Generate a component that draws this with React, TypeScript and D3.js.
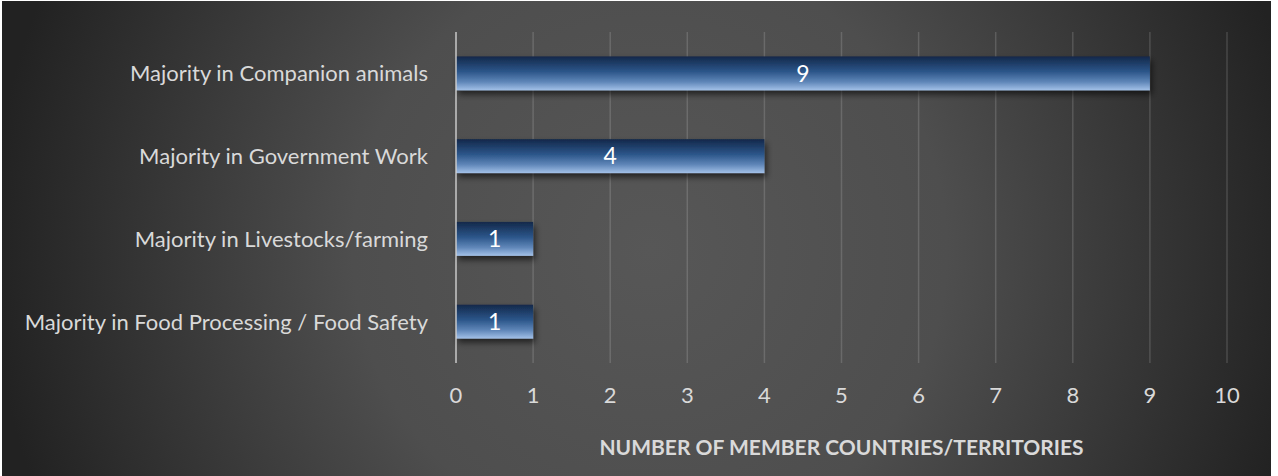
import React from "react";
import * as d3 from "d3";

const categories = [
  "Majority in Companion animals",
  "Majority in Government Work",
  "Majority in Livestocks/farming",
  "Majority in Food Processing / Food Safety",
];
const values = [9, 4, 1, 1];
const xTicks = [0, 1, 2, 3, 4, 5, 6, 7, 8, 9, 10];
const axisTitle = "NUMBER OF MEMBER COUNTRIES/TERRITORIES";

const W = 1278;
const H = 476;
const FONT = "Lato, 'Open Sans', sans-serif";

export default function App() {
  const x = d3.scaleLinear().domain([0, 10]).range([456, 1227]);
  const y = d3
    .scaleBand<string>()
    .domain(categories)
    .range([32, 363])
    .paddingInner(0.59)
    .paddingOuter(0.295);
  const bh = y.bandwidth();

  return (
    <div style={{ position: "fixed", left: 0, top: 0 }}>
      <svg width={W} height={H} style={{ display: "block" }}>
        <defs>
          <radialGradient id="bg" gradientUnits="userSpaceOnUse" cx={650} cy={250} r={660}>
            <stop offset="0" stopColor="#575757" />
            <stop offset="0.45" stopColor="#4e4e4e" />
            <stop offset="1" stopColor="#222222" />
          </radialGradient>
          <linearGradient id="bar" x1="0" y1="0" x2="0" y2="1">
            <stop offset="0" stopColor="#13284a" />
            <stop offset="0.45" stopColor="#2c568a" />
            <stop offset="0.75" stopColor="#5f86b8" />
            <stop offset="1" stopColor="#a3c1e8" />
          </linearGradient>
          <filter id="shadow" x="-10%" y="-30%" width="130%" height="190%">
            <feDropShadow dx="2" dy="4" stdDeviation="3" floodColor="#000" floodOpacity="0.6" />
          </filter>
        </defs>
        <rect x={0} y={0} width={W} height={H} fill="#ffffff" />
        <rect x={2} y={1} width={1269} height={H - 1} fill="url(#bg)" />

        {xTicks.slice(1).map((t) => (
          <line
            key={t}
            x1={x(t)}
            x2={x(t)}
            y1={32}
            y2={363}
            stroke="#ffffff"
            strokeOpacity={0.15}
            strokeWidth={1.5}
          />
        ))}

        {categories.map((c, i) => (
          <rect
            key={c}
            x={x(0)}
            y={y(c)}
            width={x(values[i]) - x(0)}
            height={bh}
            fill="url(#bar)"
            filter="url(#shadow)"
          />
        ))}

        <line x1={x(0)} x2={x(0)} y1={32} y2={363} stroke="#d0d0d0" strokeOpacity={0.7} strokeWidth={2} />

        {categories.map((c, i) => (
          <text
            key={"v" + c}
            x={(x(0) + x(values[i])) / 2}
            y={(y(c) as number) + bh / 2}
            dy="0.36em"
            textAnchor="middle"
            fill="#ffffff"
            fontFamily={FONT}
            fontSize={23}
          >
            {values[i]}
          </text>
        ))}

        {categories.map((c) => (
          <text
            key={"l" + c}
            x={428}
            y={(y(c) as number) + bh / 2}
            dy="0.36em"
            textAnchor="end"
            fill="#d9d9d9"
            fontFamily={FONT}
            fontSize={22}
          >
            {c}
          </text>
        ))}

        {xTicks.map((t) => (
          <text
            key={"t" + t}
            x={x(t)}
            y={395}
            dy="0.36em"
            textAnchor="middle"
            fill="#d9d9d9"
            fontFamily={FONT}
            fontSize={22}
          >
            {t}
          </text>
        ))}

        <text
          x={(x(0) + x(10)) / 2}
          y={447}
          dy="0.36em"
          textAnchor="middle"
          fill="#d9d9d9"
          fontFamily={FONT}
          fontWeight="bold"
          fontSize={21}
        >
          {axisTitle}
        </text>
      </svg>
    </div>
  );
}
